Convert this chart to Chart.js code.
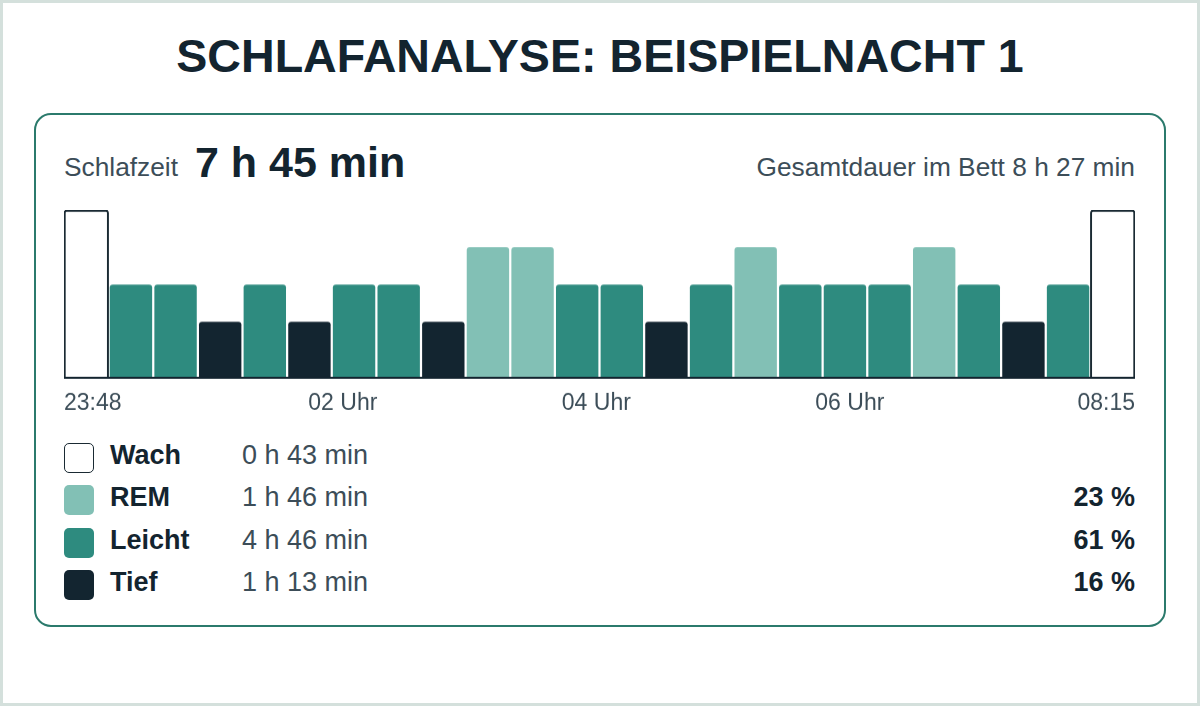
<!DOCTYPE html>
<html lang="de">
<head>
<meta charset="utf-8">
<title>Schlafanalyse: Beispielnacht 1</title>
<script src="https://cdn.jsdelivr.net/npm/chart.js@4.4.1/dist/chart.umd.min.js"></script>
<style>
  html, body { margin: 0; padding: 0; background: #ffffff; }
  body {
    position: relative; width: 1200px; height: 706px; overflow: hidden;
    font-family: 'Liberation Sans', Arial, sans-serif; color: #13242f;
  }
  .frame { position: absolute; left: 0; top: 0; right: 0; bottom: 0; border: 3px solid #d4e0dc; }
  h1 {
    position: absolute; left: 0; right: 0; top: 33px; margin: 0;
    text-align: center; font-size: 46.6px; line-height: 1; font-weight: 700; color: #13242f;
  }
  .card {
    position: absolute; left: 34px; top: 113px; width: 1132px; height: 514px;
    box-sizing: border-box; border: 2px solid #2b7a6c; border-radius: 17px;
  }
  .txt { position: absolute; line-height: 1; white-space: nowrap; }
  .muted { color: #3c4d58; font-size: 26.3px; }
  .big { font-size: 43px; font-weight: 700; color: #13242f; }
  .chart-box { position: absolute; left: 64px; top: 210px; width: 1071px; height: 218.6px; }
  .row { position: absolute; left: 64px; width: 1071px; height: 42.45px; line-height: 42.45px; font-size: 27px; }
  .row .sw { position: absolute; left: 0; top: 9px; width: 30px; height: 30px; box-sizing: border-box; border-radius: 5px; }
  .row .name { position: absolute; left: 46px; font-weight: 700; color: #13242f; }
  .row .dur { position: absolute; left: 178px; color: #3c4d58; }
  .row .pct { position: absolute; right: 0; font-weight: 700; color: #13242f; }
</style>
</head>
<body>
<div class="frame"></div>
<h1>SCHLAFANALYSE: BEISPIELNACHT 1</h1>
<div class="card"></div>
<div class="txt muted" style="left:64px; top:154px;">Schlafzeit</div>
<div class="txt big" id="sleepTime" style="left:195px; top:141px;"></div>
<div class="txt muted" id="bedTime" style="right:65px; top:154px;"></div>
<div class="chart-box"><canvas id="nightChart"></canvas></div>
<div id="legend"></div>

<script>
// Schlafphasen (von wach bis tief) und ihre Balkenhöhe
const STAGE_NAMES = ['Wach', 'REM', 'Leicht', 'Tief'];
const STAGE_LEVELS = [4.5, 3.5, 2.5, 1.5];
const STAGE_DURATIONS = ['0 h 43 min', '1 h 46 min', '4 h 46 min', '1 h 13 min'];
const STAGE_SHARES = [null, 23, 61, 16];

// Verlauf der Nacht, ein Eintrag pro Abschnitt
const NIGHT = [
  'Wach', 'Leicht', 'Leicht', 'Tief', 'Leicht', 'Tief', 'Leicht', 'Leicht',
  'Tief', 'REM', 'REM', 'Leicht', 'Leicht', 'Tief', 'Leicht', 'REM',
  'Leicht', 'Leicht', 'Leicht', 'REM', 'Leicht', 'Tief', 'Leicht', 'Wach'
];

// Zeitachse in Minuten ab 23:48
const BED_MINUTES = 507;
const TICK_MINUTES = [0, 132, 252, 372, 507];
const TICK_LABELS = ['23:48', '02 Uhr', '04 Uhr', '06 Uhr', '08:15'];

const SLEEP_TIME = '7 h 45 min';
const BED_TIME = 'Gesamtdauer im Bett 8 h 27 min';

// Farben
const INK = '#13242f';
const MUTED = '#3c4d58';
const STAGE_FILL = ['#ffffff', '#82c0b5', '#2e8b7f', '#132530'];
const STAGE_LINE = ['#1a2a33', '#82c0b5', '#2e8b7f', '#132530'];

document.getElementById('sleepTime').textContent = SLEEP_TIME;
document.getElementById('bedTime').textContent = BED_TIME;

// Legende
const legend = document.getElementById('legend');
STAGE_NAMES.forEach(function (name, i) {
  const row = document.createElement('div');
  row.className = 'row';
  row.style.top = (433.7 + i * 42.45) + 'px';
  const sw = document.createElement('div');
  sw.className = 'sw';
  sw.style.background = STAGE_FILL[i];
  if (name === 'Wach') sw.style.border = '1.5px solid ' + STAGE_LINE[i];
  row.appendChild(sw);
  const n = document.createElement('span');
  n.className = 'name';
  n.textContent = name;
  row.appendChild(n);
  const d = document.createElement('span');
  d.className = 'dur';
  d.textContent = STAGE_DURATIONS[i];
  row.appendChild(d);
  if (STAGE_SHARES[i] !== null) {
    const p = document.createElement('span');
    p.className = 'pct';
    p.textContent = STAGE_SHARES[i] + ' %';
    row.appendChild(p);
  }
  legend.appendChild(row);
});

const datasets = STAGE_NAMES.map(function (name, s) {
  return {
    label: name,
    data: NIGHT.map(function (st) { return st === name ? STAGE_LEVELS[s] : null; }),
    backgroundColor: STAGE_FILL[s],
    borderColor: STAGE_LINE[s],
    borderWidth: name === 'Wach' ? 2 : 0,
    borderRadius: 3,
    borderSkipped: 'start',
    barPercentage: name === 'Wach' ? 1 : 0.95,
    categoryPercentage: 1,
    grouped: false
  };
});

new Chart(document.getElementById('nightChart'), {
  type: 'bar',
  data: {
    labels: NIGHT.map(function (st, i) { return i; }),
    datasets: datasets
  },
  options: {
    responsive: true,
    maintainAspectRatio: false,
    animation: false,
    layout: { padding: 0 },
    plugins: { legend: { display: false }, tooltip: { enabled: false } },
    scales: {
      x: {
        type: 'category',
        offset: true,
        grid: { display: false, drawTicks: false },
        ticks: { display: false },
        border: { display: true, color: INK, width: 2, z: 1 }
      },
      time: {
        type: 'linear',
        position: 'bottom',
        axis: 'x',
        offset: false,
        bounds: 'data',
        min: 0,
        max: BED_MINUTES,
        grid: { display: false, drawTicks: false, offset: false },
        border: { display: false },
        afterBuildTicks: function (axis) {
          axis.ticks = TICK_MINUTES.map(function (v) { return { value: v }; });
        },
        // Beschriftungen sitzen innen, daher kein seitlicher Platzbedarf
        afterFit: function (axis) {
          axis.paddingLeft = 0;
          axis.paddingRight = 0;
        },
        ticks: {
          autoSkip: false,
          maxRotation: 0,
          align: 'inner',
          padding: 12,
          color: MUTED,
          font: { family: "'Liberation Sans', Arial, sans-serif", size: 23 },
          callback: function (v, i) { return TICK_LABELS[i]; }
        }
      },
      y: { display: false, min: 0, max: 4.5 }
    }
  }
});
</script>
</body>
</html>
